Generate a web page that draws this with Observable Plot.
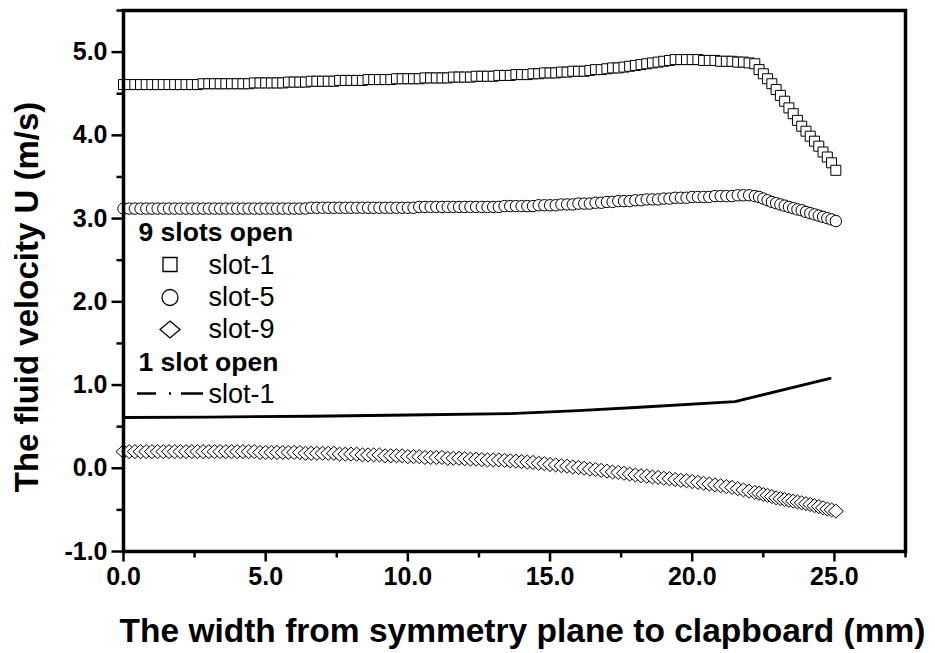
<!DOCTYPE html>
<html>
<head>
<meta charset="utf-8">
<script src="https://cdn.jsdelivr.net/npm/d3@7"></script>
<script src="https://cdn.jsdelivr.net/npm/@observablehq/plot@0.6"></script>
<style>
  html, body { margin: 0; padding: 0; background: #fff; }
  #chart svg g[aria-label^="x-axis"] text, #chart svg g[aria-label^="y-axis"] text {
    font-size: 25px; font-weight: bold; font-family: "Liberation Sans", Arial, sans-serif;
  }
</style>
</head>
<body>
<div id="chart"></div>
<script>
// ---------- data ----------
const xGrid = [
  0,0.2,0.4,0.6,0.8, 1,1.2,1.4,1.6,1.8, 2,2.2,2.4,2.6,2.8, 3,3.2,3.4,3.6,3.8,
  4,4.2,4.4,4.6,4.8, 5,5.2,5.4,5.6,5.8, 6,6.2,6.4,6.6,6.8, 7,7.2,7.4,7.6,7.8,
  8,8.2,8.4,8.6,8.8, 9,9.2,9.4,9.6,9.8, 10,10.2,10.4,10.6,10.8, 11,11.2,11.4,11.6,11.8,
  12,12.2,12.4,12.6,12.8, 13,13.2,13.4,13.6,13.8, 14,14.2,14.4,14.6,14.8, 15,15.2,15.4,15.6,15.8,
  16,16.2,16.4,16.6,16.8, 17,17.2,17.4,17.6,17.8, 18,18.2,18.4,18.6,18.8, 19,19.2,19.4,19.6,19.8,
  20,20.2,20.4,20.6,20.8, 21,21.2,21.4,21.6,21.8, 22,22.2,
  22.35,22.5,22.65,22.8,22.95,23.1,23.25,23.4,23.55,23.7,23.85,24,24.15,24.3,24.45,24.6,24.75,24.9,25.05
];
// 9 slots open, slot-1 (squares)
const slot1 = [
  4.61,4.61,4.61,4.61,4.61, 4.61,4.61,4.61,4.61,4.61, 4.61,4.61,4.61,4.61,4.62, 4.62,4.62,4.62,4.62,4.62,
  4.62,4.62,4.62,4.63,4.63, 4.63,4.63,4.63,4.63,4.64, 4.64,4.64,4.64,4.65,4.65, 4.65,4.65,4.65,4.66,4.66,
  4.66,4.66,4.66,4.67,4.67, 4.67,4.67,4.67,4.68,4.68, 4.68,4.68,4.68,4.69,4.69, 4.69,4.69,4.69,4.70,4.70,
  4.70,4.70,4.71,4.71,4.71, 4.71,4.72,4.72,4.72,4.73, 4.73,4.73,4.74,4.74,4.75, 4.75,4.75,4.76,4.76,4.77,
  4.77,4.77,4.78,4.79,4.79, 4.80,4.81,4.81,4.82,4.83, 4.84,4.85,4.86,4.87,4.88, 4.89,4.90,4.91,4.91,4.91,
  4.91,4.91,4.90,4.90,4.90, 4.89,4.89,4.89,4.88,4.88, 4.87,4.86,
  4.79,4.74,4.68,4.62,4.55,4.48,4.41,4.33,4.26,4.18,4.11,4.05,3.99,3.93,3.87,3.80,3.74,3.67,3.58
];
// 9 slots open, slot-5 (circles)
const slot5 = [
  3.12,3.12,3.12,3.12,3.12, 3.12,3.12,3.12,3.12,3.12, 3.12,3.12,3.12,3.12,3.12, 3.12,3.12,3.12,3.12,3.12,
  3.12,3.12,3.12,3.12,3.12, 3.12,3.12,3.12,3.12,3.12, 3.12,3.12,3.12,3.13,3.13, 3.13,3.13,3.13,3.13,3.13,
  3.13,3.13,3.13,3.13,3.13, 3.13,3.13,3.13,3.13,3.13, 3.13,3.13,3.14,3.14,3.14, 3.14,3.14,3.14,3.14,3.14,
  3.14,3.14,3.14,3.14,3.14, 3.14,3.14,3.15,3.15,3.15, 3.15,3.15,3.15,3.16,3.16, 3.16,3.16,3.17,3.17,3.17,
  3.18,3.18,3.18,3.19,3.19, 3.20,3.20,3.21,3.21,3.21, 3.22,3.22,3.23,3.23,3.23, 3.24,3.24,3.25,3.25,3.25,
  3.26,3.26,3.26,3.26,3.27, 3.27,3.27,3.27,3.28,3.28, 3.28,3.27,
  3.26,3.24,3.22,3.20,3.185,3.17,3.155,3.14,3.125,3.11,3.10,3.08,3.065,3.05,3.035,3.02,3.005,2.99,2.97
];
// 9 slots open, slot-9 (diamonds)
const slot9 = [
  0.20,0.20,0.20,0.20,0.20, 0.20,0.20,0.20,0.20,0.20, 0.20,0.20,0.20,0.20,0.20, 0.20,0.20,0.20,0.20,0.20,
  0.20,0.20,0.20,0.20,0.19, 0.19,0.19,0.19,0.19,0.19, 0.19,0.19,0.18,0.18,0.18, 0.18,0.18,0.18,0.17,0.17,
  0.17,0.17,0.16,0.16,0.16, 0.16,0.15,0.15,0.15,0.15, 0.14,0.14,0.14,0.13,0.13, 0.13,0.13,0.12,0.12,0.12,
  0.115,0.11,0.11,0.105,0.10, 0.10,0.10,0.095,0.09,0.085, 0.08,0.075,0.07,0.06,0.055, 0.045,0.04,0.03,0.025,0.015,
  0.01,0.0,-0.01,-0.015,-0.025, -0.035,-0.045,-0.05,-0.06,-0.07, -0.08,-0.09,-0.095,-0.105,-0.11, -0.12,-0.125,-0.135,-0.145,-0.15,
  -0.16,-0.17,-0.18,-0.19,-0.20, -0.21,-0.22,-0.23,-0.245,-0.26, -0.275,-0.29,
  -0.30,-0.315,-0.325,-0.34,-0.355,-0.365,-0.375,-0.385,-0.395,-0.405,-0.415,-0.425,-0.435,-0.45,-0.46,-0.475,-0.49,-0.50,-0.515
];
// 1 slot open, slot-1 (line)
const oneSlotX = [0, 3, 6.6, 10, 13.6, 16, 18.3, 21.5, 24.85];
const oneSlotY = [0.61, 0.615, 0.625, 0.64, 0.657, 0.693, 0.736, 0.80, 1.08];

const xMajor = [0, 5, 10, 15, 20, 25];
const xMinor = [2.5, 7.5, 12.5, 17.5, 22.5, 27.5];
const yMajor = [-1, 0, 1, 2, 3, 4, 5];
const yMinor = [-0.5, 0.5, 1.5, 2.5, 3.5, 4.5, 5.5];

const xTitle = "The width from symmetry plane to clapboard (mm)";
const yTitle = "The fluid velocity U (m/s)";
const legendHead9 = "9 slots open";
const legendHead1 = "1 slot open";
const legendNames = ["slot-1", "slot-5", "slot-9", "slot-1"];

// ---------- build ----------
const rows = (ys) => xGrid.map((x, i) => ({x, y: ys[i]}));
const s1 = rows(slot1), s5 = rows(slot5), s9 = rows(slot9);
const line1 = oneSlotX.map((x, i) => ({x, y: oneSlotY[i]}));
const fmt = d => d.toFixed(1);

const symSquare = s => ({draw(c) { c.rect(-s / 2, -s / 2, s, s); }});
const symCircle = r => ({draw(c) { c.moveTo(r, 0); c.arc(0, 0, r, 0, 2 * Math.PI); }});
const symDiamond = (w, h) => ({draw(c) { c.moveTo(0, -h); c.lineTo(w, 0); c.lineTo(0, h); c.lineTo(-w, 0); c.closePath(); }});
const symTickDown = L => ({draw(c) { c.moveTo(0, 0); c.lineTo(0, L); }});
const symTickLeft = L => ({draw(c) { c.moveTo(0, 0); c.lineTo(-L, 0); }});
const symDashDot = {draw(c) {
  c.moveTo(-33, 0); c.lineTo(-14, 0);
  c.moveTo(-1, 0); c.lineTo(1, 0);
  c.moveTo(11, 0); c.lineTo(33, 0);
}};

const markerStyle = {fill: "white", stroke: "black", strokeWidth: 1, r: 4};
const legendText = {frameAnchor: "top-left", textAnchor: "start", lineAnchor: "bottom", fontSize: 27, fill: "black", text: d => d};

const chart = Plot.plot({
  width: 935,
  height: 653,
  marginLeft: 123,
  marginRight: 30,
  marginTop: 10,
  marginBottom: 102,
  style: {fontFamily: "'Liberation Sans', Arial, sans-serif", fontSize: "25px", fontWeight: "bold", background: "white", color: "black"},
  x: {domain: [0, 27.5], ticks: xMajor, tickFormat: fmt, tickSize: 0, tickPadding: 16, label: null},
  y: {domain: [-1, 5.5], ticks: yMajor, tickFormat: fmt, tickSize: 0, tickPadding: 16, label: null},
  marks: [
    // ticks
    Plot.dot(xMajor, {x: d => d, frameAnchor: "bottom", symbol: symTickDown(10), fill: "none", stroke: "black", strokeWidth: 2.5}),
    Plot.dot(xMinor, {x: d => d, frameAnchor: "bottom", symbol: symTickDown(6), fill: "none", stroke: "black", strokeWidth: 2.5}),
    Plot.dot(yMajor, {y: d => d, frameAnchor: "left", symbol: symTickLeft(12), fill: "none", stroke: "black", strokeWidth: 2.5}),
    Plot.dot(yMinor, {y: d => d, frameAnchor: "left", symbol: symTickLeft(7), fill: "none", stroke: "black", strokeWidth: 2.5}),
    // data
    Plot.line(line1, {x: "x", y: "y", stroke: "black", strokeWidth: 2.8}),
    Plot.dot(s1, {x: "x", y: "y", symbol: symSquare(10), ...markerStyle}),
    Plot.dot(s5, {x: "x", y: "y", symbol: symCircle(5.7), ...markerStyle}),
    Plot.dot(s9, {x: "x", y: "y", symbol: symDiamond(7.5, 7), ...markerStyle}),
    // legend
    Plot.text([legendHead9], {...legendText, dx: 15, dy: 230, fontSize: 26.5, fontWeight: "bold"}),
    Plot.dot([0], {frameAnchor: "top-left", dx: 46.5, dy: 254, symbol: symSquare(14), fill: "white", stroke: "black", strokeWidth: 1.3}),
    Plot.text([legendNames[0]], {...legendText, dx: 85, dy: 263, fontWeight: "normal"}),
    Plot.dot([0], {frameAnchor: "top-left", dx: 46.5, dy: 287, symbol: symCircle(8), fill: "white", stroke: "black", strokeWidth: 1.3}),
    Plot.text([legendNames[1]], {...legendText, dx: 85, dy: 295, fontWeight: "normal"}),
    Plot.dot([0], {frameAnchor: "top-left", dx: 46.5, dy: 319, symbol: symDiamond(10, 8.5), fill: "white", stroke: "black", strokeWidth: 1.3}),
    Plot.text([legendNames[2]], {...legendText, dx: 85, dy: 327, fontWeight: "normal"}),
    Plot.text([legendHead1], {...legendText, dx: 15, dy: 360, fontSize: 26.5, fontWeight: "bold"}),
    Plot.dot([0], {frameAnchor: "top-left", dx: 46.5, dy: 383, symbol: symDashDot, fill: "none", stroke: "black", strokeWidth: 2.5}),
    Plot.text([legendNames[3]], {...legendText, dx: 85, dy: 392, fontWeight: "normal"}),
    // titles
    Plot.text([xTitle], {frameAnchor: "bottom", textAnchor: "middle", lineAnchor: "bottom", dx: 8, dy: 90, fontSize: 33.5, fontWeight: "bold", fill: "black", text: d => d}),
    Plot.text([yTitle], {frameAnchor: "left", textAnchor: "middle", rotate: -90, dx: -96, dy: 16, fontSize: 33, fontWeight: "bold", fill: "black", text: d => d}),
    Plot.frame({stroke: "black", strokeWidth: 3.5})
  ]
});
document.getElementById("chart").appendChild(chart);
</script>
</body>
</html>
